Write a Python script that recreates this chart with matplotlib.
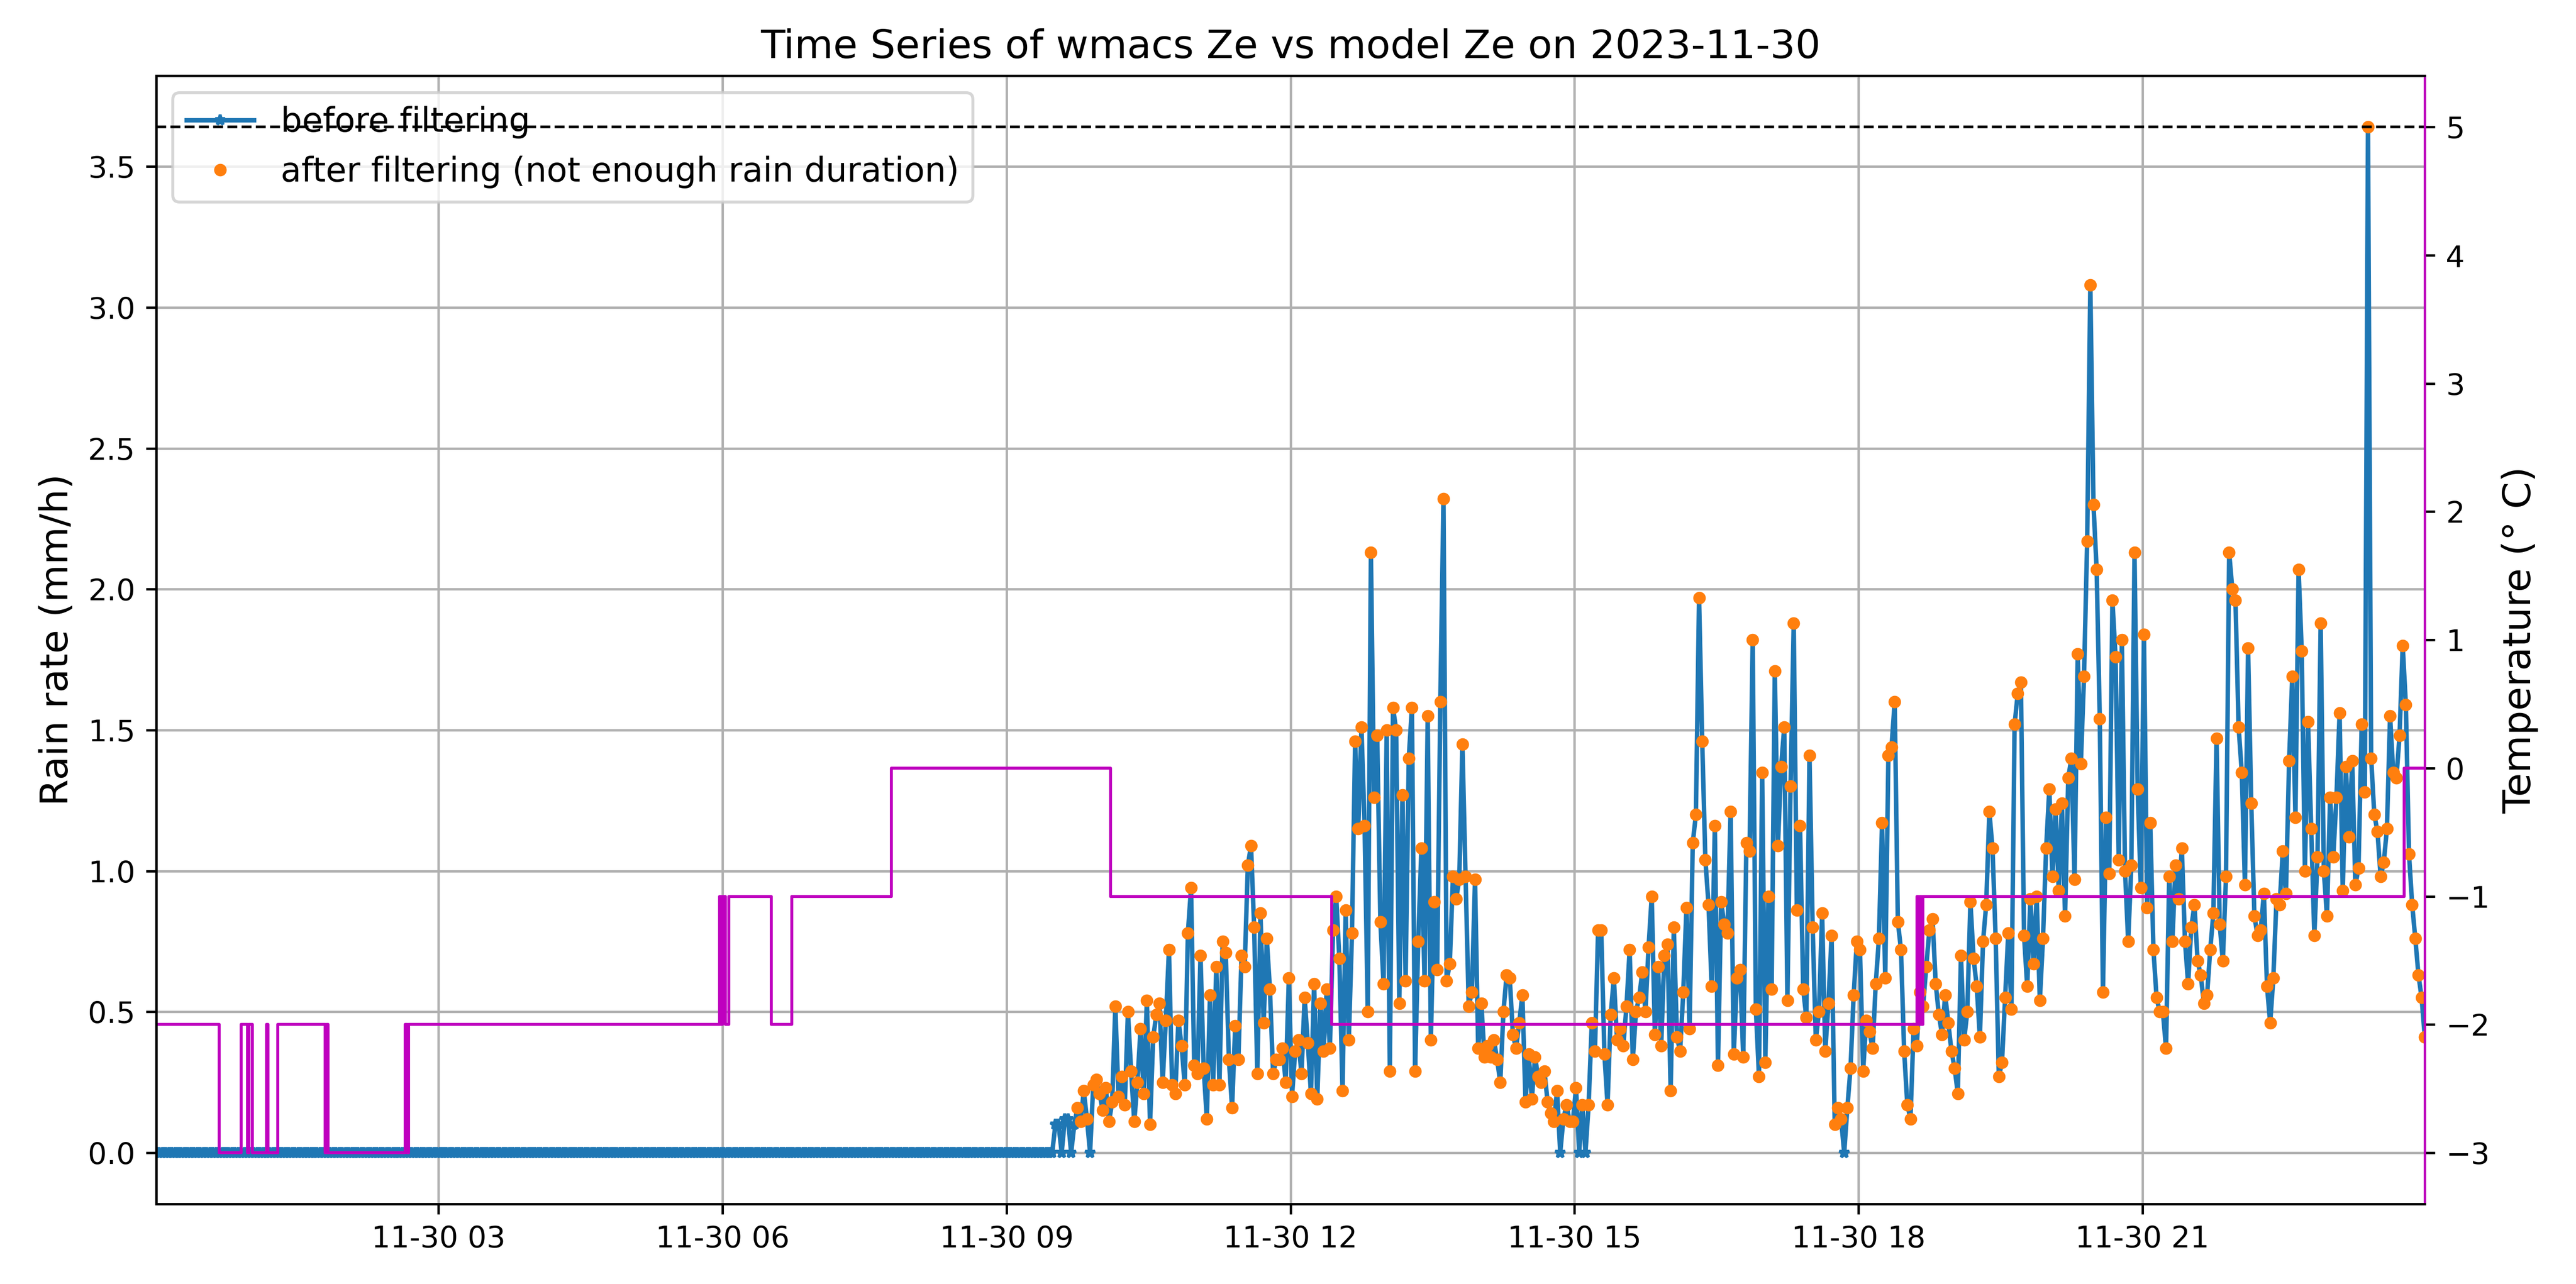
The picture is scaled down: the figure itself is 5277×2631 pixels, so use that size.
import numpy as np
import matplotlib
matplotlib.use("Agg")
import matplotlib.pyplot as plt
import matplotlib.dates as mdates

DAY = "2023-11-30"
STEP = np.timedelta64(2, "m")

# dry period (rain rate 0) sampled every 2 minutes
dry_start = "00:01"
dry_end = "09:27"

# rain rate (mm/h), 2-minute samples, each list starts at the given time
rain_0929 = [0.00, 0.10, 0.10, 0.00, 0.12, 0.12, 0.00, 0.10, 0.16, 0.11,
             0.22, 0.12, 0.00, 0.24, 0.26, 0.21, 0.15, 0.23, 0.11, 0.18,
             0.52, 0.20, 0.27, 0.17, 0.50, 0.29, 0.11, 0.25, 0.44, 0.21,
             0.54, 0.10, 0.41, 0.49, 0.53, 0.25, 0.47, 0.72, 0.24, 0.21,
             0.47, 0.38, 0.24, 0.78, 0.94, 0.31, 0.28, 0.70, 0.30, 0.12,
             0.56, 0.24, 0.66, 0.24, 0.75, 0.71, 0.33, 0.16, 0.45, 0.33,
             0.70, 0.66, 1.02, 1.09, 0.80, 0.28, 0.85, 0.46, 0.76, 0.58,
             0.28, 0.33]
rain_1153 = [0.33, 0.37, 0.25, 0.62, 0.20, 0.36, 0.40, 0.28, 0.55, 0.39,
             0.21, 0.60, 0.19, 0.53, 0.36, 0.58, 0.37, 0.79, 0.91, 0.69,
             0.22, 0.86, 0.40, 0.78, 1.46, 1.15, 1.51, 1.16, 0.50, 2.13,
             1.26, 1.48, 0.82, 0.60, 1.50, 0.29, 1.58, 1.50, 0.53, 1.27,
             0.61, 1.40, 1.58, 0.29, 0.75, 1.08, 0.61, 1.55, 0.40, 0.89,
             0.65, 1.60, 2.32, 0.61, 0.67, 0.98, 0.90, 0.97, 1.45, 0.98,
             0.52, 0.57, 0.97, 0.37, 0.53, 0.34, 0.38, 0.34, 0.40, 0.33,
             0.25, 0.50, 0.63]
rain_1419 = [0.62, 0.42, 0.37, 0.46, 0.56, 0.18, 0.35, 0.19, 0.34, 0.27,
             0.25, 0.29, 0.18, 0.14, 0.11, 0.22, 0.00, 0.12, 0.17, 0.11,
             0.11, 0.23, 0.00, 0.17, 0.00, 0.17, 0.46, 0.36, 0.79, 0.79,
             0.35, 0.17, 0.49, 0.62, 0.40, 0.44, 0.38, 0.52, 0.72, 0.33,
             0.50, 0.55, 0.64, 0.50, 0.73, 0.91, 0.42, 0.66, 0.38, 0.70,
             0.74, 0.22, 0.80, 0.41, 0.36, 0.57, 0.87, 0.44, 1.10, 1.20,
             1.97, 1.46, 1.04, 0.88, 0.59, 1.16, 0.31, 0.89, 0.81, 0.78,
             1.21, 0.35]
rain_1643 = [0.62, 0.65, 0.34, 1.10, 1.07, 1.82, 0.51, 0.27, 1.35, 0.32,
             0.91, 0.58, 1.71, 1.09, 1.37, 1.51, 0.54, 1.30, 1.88, 0.86,
             1.16, 0.58, 0.48, 1.41, 0.80, 0.40, 0.50, 0.85, 0.36, 0.53,
             0.77, 0.10, 0.16, 0.12, 0.00, 0.16, 0.30, 0.56, 0.75, 0.72,
             0.29, 0.47, 0.43, 0.37, 0.60, 0.76, 1.17, 0.62, 1.41, 1.44,
             1.60, 0.82, 0.72, 0.36, 0.17, 0.12, 0.44, 0.38, 0.57, 0.52,
             0.66, 0.79, 0.83, 0.60, 0.49, 0.42, 0.56, 0.46, 0.36, 0.30,
             0.21, 0.70, 0.40]
rain_1909 = [0.50, 0.89, 0.69, 0.59, 0.41, 0.75, 0.88, 1.21, 1.08, 0.76,
             0.27, 0.32, 0.55, 0.78, 0.51, 1.52, 1.63, 1.67, 0.77, 0.59,
             0.90, 0.67, 0.91, 0.54, 0.76, 1.08, 1.29, 0.98, 1.22, 0.93,
             1.24, 0.84, 1.33, 1.40, 0.97, 1.77, 1.38, 1.69, 2.17, 3.08,
             2.30, 2.07, 1.54, 0.57, 1.19, 0.99, 1.96, 1.76, 1.04, 1.82,
             1.00, 0.75, 1.02, 2.13, 1.29, 0.94, 1.84, 0.87, 1.17, 0.72,
             0.55, 0.50, 0.50, 0.37, 0.98, 0.75, 1.02, 0.90, 1.08, 0.75,
             0.60, 0.80]
rain_2133 = [0.88, 0.68, 0.63, 0.53, 0.56, 0.72, 0.85, 1.47, 0.81, 0.68,
             0.98, 2.13, 2.00, 1.96, 1.51, 1.35, 0.95, 1.79, 1.24, 0.84,
             0.77, 0.79, 0.92, 0.59, 0.46, 0.62, 0.90, 0.88, 1.07, 0.92,
             1.39, 1.69, 1.19, 2.07, 1.78, 1.00, 1.53, 1.15, 0.77, 1.05,
             1.88, 1.00, 0.84, 1.26, 1.05, 1.26, 1.56, 0.93, 1.37, 1.12,
             1.39, 0.95, 1.01, 1.52, 1.28, 3.64, 1.40, 1.20, 1.14, 0.98,
             1.03, 1.15, 1.55, 1.35, 1.33, 1.48, 1.80, 1.59, 1.06, 0.88,
             0.76, 0.63, 0.55, 0.41]
rain_segments = [("09:29", rain_0929), ("11:53", rain_1153), ("14:19", rain_1419),
                 ("16:43", rain_1643), ("19:09", rain_1909), ("21:33", rain_2133)]

# first time kept by the rain-duration filter
filter_start = "09:45"

# temperature (deg C) change points, held until the next one
temp_times = ["00:01", "00:41", "00:55", "00:59", "01:00", "01:02", "01:11", "01:12",
              "01:18", "01:48", "01:49", "01:50", "02:39", "02:40", "02:41", "05:58",
              "05:59", "06:00", "06:02", "06:04", "06:31", "06:44", "07:47", "10:06",
              "12:26", "18:37", "18:38", "18:39", "18:40", "18:41", "23:46", "23:59"]
temp_vals = [-2, -3, -2, -3, -2, -3, -2, -3,
             -2, -3, -2, -3, -2, -3, -2, -1,
             -2, -1, -2, -1, -2, -1, 0, -1,
             -2, -1, -2, -1, -2, -1, 0, 0]
temp_ref = 5


def ts(hm):
    return np.datetime64(f"{DAY}T{hm}")


dry_times = np.arange(ts(dry_start), ts(dry_end) + STEP, STEP)
times = [dry_times]
rain = [np.zeros(len(dry_times))]
for start, vals in rain_segments:
    times.append(ts(start) + STEP * np.arange(len(vals)))
    rain.append(np.array(vals, dtype=float))
times = np.concatenate(times)
rain = np.concatenate(rain)

filtered = np.where((times >= ts(filter_start)) & (rain > 0), rain, np.nan)

t_temp = np.array([ts(h) for h in temp_times])

fig, ax = plt.subplots(figsize=(5277 / 440, 2631 / 440), dpi=440)
fig.subplots_adjust(left=0.0606, right=0.9413, top=0.941, bottom=0.0623)

ax.plot(times, rain, marker="*", ms=3.5, lw=1.5, color="C0", label="before filtering")
ax.plot(times, filtered, "o", ms=3.2, color="C1",
        label="after filtering (not enough rain duration)")
ax.set_ylabel("Rain rate (mm/h)", fontsize=13)
ax.grid(True)
ax.legend(loc="upper left", fontsize=11.3)
ax.set_title(f"Time Series of wmacs Ze vs model Ze on {DAY}", fontsize=13.3)

ax2 = ax.twinx()
ax2.plot(t_temp, temp_vals, color="m", lw=1, drawstyle="steps-post")
ax2.axhline(temp_ref, color="k", ls="--", lw=0.9)
ax2.set_ylabel("Temperature (° C)", fontsize=13)
ax2.spines["right"].set_color("m")

ax.xaxis.set_major_locator(mdates.HourLocator(byhour=range(0, 24, 3)))
ax.xaxis.set_major_formatter(mdates.DateFormatter("%m-%d %H"))
ax.set_xlim(times[0], times[-1])

fig.savefig("out.png", dpi=440)
